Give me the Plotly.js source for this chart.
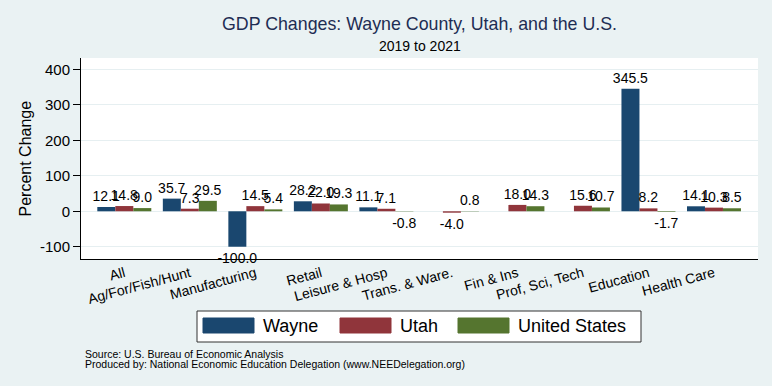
<!DOCTYPE html>
<html>
<head>
<meta charset="utf-8">
<script src="https://cdn.plot.ly/plotly-3.0.1.min.js"></script>
<style>html,body{margin:0;padding:0;background:#eaf2f3;}#chart{width:772px;height:386px;}</style>
</head>
<body>
<div id="chart"></div>
<script>
const categories = ['All','Ag/For/Fish/Hunt','Manufacturing','Retail','Leisure & Hosp','Trans. & Ware.','Fin & Ins','Prof, Sci, Tech','Education','Health Care'];
const wayne = [12.1, 35.7, -100.0, 28.2, 11.1, null, null, null, 345.5, 14.1];
const utah  = [14.8, 7.3, 14.5, 22.0, 7.1, -4.0, 18.0, 15.6, 8.2, 10.3];
const us    = [9.0, 29.5, 5.4, 19.3, -0.8, 0.8, 14.3, 10.7, -1.7, 8.5];
const seriesNames = ['Wayne', 'Utah', 'United States'];
const colors = ['#1a476f', '#90353b', '#55752f'];
const yTicks = [-100, 0, 100, 200, 300, 400];

const W = 772, H = 386;
const M = {l: 81, r: 14, t: 58, b: 127};
const PW = W - M.l - M.r, PH = H - M.t - M.b;
const px = x => (x - M.l) / PW;
const py = y => (H - M.b - y) / PH;

const FONT = 'Liberation Sans, Arial, Helvetica, sans-serif';
const fmt = v => v === null ? '' : v.toFixed(1);

const series = [wayne, utah, us];
const traces = series.map((vals, i) => ({
  type: 'bar',
  name: seriesNames[i],
  x: categories,
  y: vals,
  text: vals.map(fmt),
  textposition: 'outside',
  constraintext: 'none',
  cliponaxis: false,
  textfont: {family: FONT, size: 14, color: '#000'},
  marker: {color: colors[i], line: {width: 0}},
  hoverinfo: 'none',
  showlegend: false
}));

const shapes = [];
const annotations = [];
// custom legend
shapes.push({type: 'rect', xref: 'paper', yref: 'paper', x0: px(197), x1: px(641), y0: py(342), y1: py(311),
  fillcolor: '#ffffff', line: {color: '#333', width: 1}});
const swX = [203, 340, 458], txX = [261, 398, 516];
for (let i = 0; i < 3; i++) {
  shapes.push({type: 'rect', xref: 'paper', yref: 'paper', x0: px(swX[i]), x1: px(swX[i] + 51), y0: py(333), y1: py(318),
    fillcolor: colors[i], line: {color: colors[i], width: 1}});
  annotations.push({xref: 'paper', yref: 'paper', x: px(txX[i]), y: py(326), xanchor: 'left', yanchor: 'middle',
    text: seriesNames[i], showarrow: false, font: {family: FONT, size: 18, color: '#000'}});
}
annotations.push({xref: 'paper', yref: 'paper', x: 0.5, y: py(46), xanchor: 'center', yanchor: 'middle',
  text: '2019 to 2021', showarrow: false, font: {family: FONT, size: 14, color: '#000'}});
annotations.push({xref: 'paper', yref: 'paper', x: px(83), y: py(353.5), xanchor: 'left', yanchor: 'middle',
  text: 'Source: U.S. Bureau of Economic Analysis', showarrow: false, font: {family: FONT, size: 10.5, color: '#000'}});
annotations.push({xref: 'paper', yref: 'paper', x: px(83), y: py(363.5), xanchor: 'left', yanchor: 'middle',
  text: 'Produced by: National Economic Education Delegation (www.NEEDelegation.org)', showarrow: false, font: {family: FONT, size: 10.5, color: '#000'}});
annotations.push({xref: 'paper', yref: 'paper', x: px(25), y: 0.5, xanchor: 'center', yanchor: 'middle', textangle: -90,
  text: 'Percent Change', showarrow: false, font: {family: FONT, size: 16, color: '#000'}});

const layout = {
  width: W, height: H,
  margin: M,
  paper_bgcolor: '#eaf2f3',
  plot_bgcolor: '#ffffff',
  barmode: 'group',
  bargap: 0.176,
  bargroupgap: 0,
  showlegend: false,
  title: {text: 'GDP Changes: Wayne County, Utah, and the U.S.', x: px(419.5), xref: 'paper', xanchor: 'center',
    y: 1 - 24 / H, yref: 'container', yanchor: 'middle',
    font: {family: FONT, size: 17.8, color: '#1e2d53'}},
  xaxis: {
    type: 'category',
    range: [-0.661, 9.672],
    tickangle: -15,
    tickfont: {family: FONT, size: 14, color: '#000'},
    showgrid: false,
    showline: true, linecolor: '#000', linewidth: 1,
    ticks: '', zeroline: false, fixedrange: true
  },
  yaxis: {
    range: [-134.6, 432.4],
    tickvals: yTicks,
    ticktext: yTicks.map(String),
    tickfont: {family: FONT, size: 15, color: '#000'},
    ticks: 'outside', ticklen: 7, tickcolor: '#000', tickwidth: 1,
    showline: true, linecolor: '#000', linewidth: 1,
    showgrid: true, gridcolor: '#e6eff1', gridwidth: 1,
    zeroline: false, fixedrange: true
  },
  shapes: shapes,
  annotations: annotations
};

Plotly.newPlot('chart', traces, layout, {staticPlot: true, displayModeBar: false});
</script>
</body>
</html>
